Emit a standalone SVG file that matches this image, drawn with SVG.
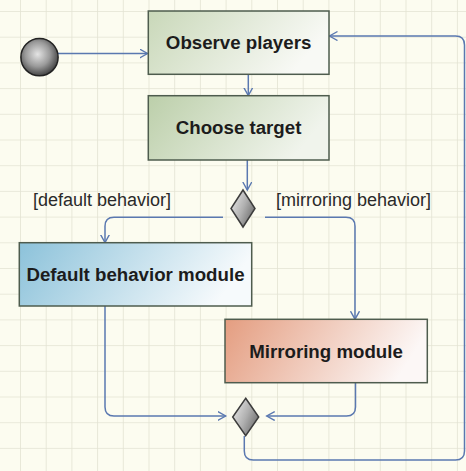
<svg xmlns="http://www.w3.org/2000/svg" width="466" height="471" viewBox="0 0 466 471">
  <defs>
    <pattern id="grid" patternUnits="userSpaceOnUse" x="20" y="11" width="25.7" height="25.7">
      <path d="M0,0 V25.7 M0,0 H25.7" fill="none" stroke="#e3e3d3" stroke-width="1.6"/>
    </pattern>
    <linearGradient id="gObserve" x1="0" y1="0" x2="1" y2="0.3">
      <stop offset="0" stop-color="#c9d8b9"/>
      <stop offset="1" stop-color="#f8f9f5"/>
    </linearGradient>
    <linearGradient id="gChoose" x1="0" y1="0" x2="1" y2="0.3">
      <stop offset="0" stop-color="#bccfaa"/>
      <stop offset="1" stop-color="#f0f4ec"/>
    </linearGradient>
    <linearGradient id="gDefault" x1="0" y1="0" x2="1" y2="0.2">
      <stop offset="0" stop-color="#8cc2da"/>
      <stop offset="1" stop-color="#f6fafc"/>
    </linearGradient>
    <linearGradient id="gMirror" x1="0" y1="0" x2="1" y2="0.2">
      <stop offset="0" stop-color="#e49d80"/>
      <stop offset="1" stop-color="#fcf7f6"/>
    </linearGradient>
    <linearGradient id="gDiamond" x1="0" y1="0.2" x2="1" y2="0.8">
      <stop offset="0" stop-color="#e6e6e6"/>
      <stop offset="0.5" stop-color="#b0b0b0"/>
      <stop offset="1" stop-color="#666666"/>
    </linearGradient>
    <radialGradient id="gStart" cx="0.45" cy="0.42" r="0.6">
      <stop offset="0" stop-color="#e4e4e4"/>
      <stop offset="0.55" stop-color="#9a9a9a"/>
      <stop offset="1" stop-color="#3e3e3e"/>
    </radialGradient>
    <marker id="arrow" markerUnits="userSpaceOnUse" markerWidth="12" markerHeight="12" refX="8" refY="5" orient="auto">
      <path d="M0,0.5 L8,5 L0,9.5" fill="none" stroke="#5a78b0" stroke-width="1.4"/>
    </marker>
    <style>
      .box { stroke: #4e5c4e; stroke-width: 1.5; }
      .lbl { font-family: "Liberation Sans", Arial, sans-serif; font-weight: bold; font-size: 18.7px; fill: #1c1c1c; text-anchor: middle; }
      .guard { font-family: "Liberation Sans", Arial, sans-serif; font-size: 18px; fill: #2a2a2a; }
      .conn { fill: none; stroke: #5a78b0; stroke-width: 1.5; }
      .dia { fill: url(#gDiamond); stroke: #3c3c3c; stroke-width: 1.5; }
    </style>
  </defs>

  <rect x="0" y="0" width="466" height="471" fill="#fcfcf0"/>
  <rect x="0" y="0" width="466" height="471" fill="url(#grid)"/>

  <g id="connectors">
    <path class="conn" d="M58,53.5 H147.5" marker-end="url(#arrow)"/>
    <path class="conn" d="M248.3,74.3 V95.5" marker-end="url(#arrow)"/>
    <path class="conn" d="M247.3,160 V190" marker-end="url(#arrow)"/>
    <path class="conn" d="M223,217.3 H114 Q105,217.3 105,226.3 V242.5" marker-end="url(#arrow)"/>
    <path class="conn" d="M265,217.3 H346 Q355,217.3 355,226.3 V319.2" marker-end="url(#arrow)"/>
    <path class="conn" d="M105,306 V407 Q105,416 114,416 H225.7" marker-end="url(#arrow)"/>
    <path class="conn" d="M355.5,382.7 V407 Q355.5,416 346.5,416 H266.7" marker-end="url(#arrow)"/>
    <path class="conn" d="M244.3,436 V451 Q244.3,460 253.3,460 H455.5 Q464.5,460 464.5,451 V45 Q464.5,36 455.5,36 H329.5" marker-end="url(#arrow)"/>
  </g>

  <g id="start">
    <circle cx="39.5" cy="57.2" r="18.6" fill="url(#gStart)" stroke="#222" stroke-width="1.5"/>
  </g>

  <g id="observe-players">
    <rect class="box" x="148.3" y="11" width="180.7" height="63.3" fill="url(#gObserve)"/>
    <text class="lbl" x="238.6" y="49.3">Observe players</text>
  </g>

  <g id="choose-target">
    <rect class="box" x="148.3" y="95.7" width="180.7" height="64.3" fill="url(#gChoose)"/>
    <text class="lbl" x="238.6" y="134.3">Choose target</text>
  </g>

  <g id="decision">
    <polygon class="dia" points="243,190 255,208.5 243,227 231,208.5"/>
  </g>

  <g id="guard-default">
    <text class="guard" x="33" y="206">[default behavior]</text>
  </g>
  <g id="guard-mirroring">
    <text class="guard" x="276" y="206">[mirroring behavior]</text>
  </g>

  <g id="default-behavior-module">
    <rect class="box" x="19.3" y="242.7" width="232.4" height="63.3" fill="url(#gDefault)"/>
    <text class="lbl" x="135.5" y="280.8">Default behavior module</text>
  </g>

  <g id="mirroring-module">
    <rect class="box" x="225" y="319.3" width="202.3" height="63.4" fill="url(#gMirror)"/>
    <text class="lbl" x="326" y="357.6">Mirroring module</text>
  </g>

  <g id="merge">
    <polygon class="dia" points="245.7,398.3 258.7,417 245.7,435.7 232.7,417"/>
  </g>
</svg>
